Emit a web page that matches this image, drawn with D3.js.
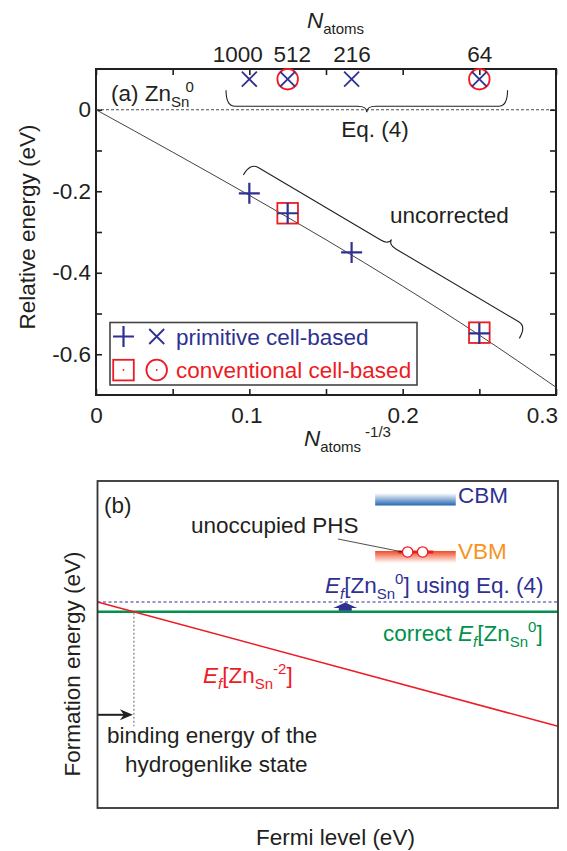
<!DOCTYPE html>
<html>
<head>
<meta charset="utf-8">
<script src="https://cdn.jsdelivr.net/npm/d3@7"></script>
<style>
  body{margin:0;background:#fff}
  svg{display:block;font-family:"Liberation Sans",Arial,sans-serif}
</style>
</head>
<body>
<svg width="567" height="851"></svg>
<script>
// ---- panel (a) data ----
var nAtoms=["1000","512","216","64"]
var nAtomsX=[0.1,0.125,0.1667,0.25]            // N^-1/3
var primX=[0.1,0.125,0.1667,0.25]
var primUncorr=[-0.205,-0.254,-0.350,-0.549]
var primEq4=[0.075,0.075,0.075,0.075]
var convX=[0.125,0.25]
var convUncorr=[-0.254,-0.547]
var convEq4=[0.075,0.075]
var fitX=[0,0.05,0.1,0.15,0.2,0.25,0.3]
var fitY=[0,-0.104,-0.21,-0.319,-0.433,-0.553,-0.681]
var xTicks=[0,0.05,0.1,0.15,0.2,0.25,0.3]
var xTickLabels=["0","","0.1","","0.2","","0.3"]
var yTicks=[0,-0.1,-0.2,-0.3,-0.4,-0.5,-0.6]
var yTickLabels=["0","","-0.2","","-0.4","","-0.6"]
var eq4Brace=[[0.0848,0.048],[0.2684,0.048]]
var uncorrBrace=[[0.0961,-0.160],[0.2761,-0.561]]

// ---- panel (b) schematic data (arbitrary units) ----
var correctLevel=6.0
var eq4Level=6.3
var charged=[[0,6.3],[1,2.5]]
var crossX=0.079
var bindingY=2.85
var cbm={x0:0.603,x1:0.778,y0:9.25,y1:9.63}
var vbm={x0:0.603,x1:0.778,y0:7.49,y1:7.86}
var phsX=[0.6735,0.706]
var phsSeg=[0.653,0.729]
var shiftArrowX=0.538

var ink="#231F20", blue="#2E3192", red="#ED1C24", green="#00924A", orange="#F7941D"

var svg=d3.select("svg")
svg.append("rect").attr("width",567).attr("height",851).attr("fill","#fff")

var defs=svg.append("defs")
var gc=defs.append("linearGradient").attr("id","gcbm").attr("x1",0).attr("y1",0).attr("x2",0).attr("y2",1)
gc.append("stop").attr("offset","0%").attr("stop-color","#fff")
gc.append("stop").attr("offset","100%").attr("stop-color","#2567B2")
var gv=defs.append("linearGradient").attr("id","gvbm").attr("x1",0).attr("y1",0).attr("x2",0).attr("y2",1)
gv.append("stop").attr("offset","0%").attr("stop-color","#EF4B24")
gv.append("stop").attr("offset","100%").attr("stop-color","#fff")

// rich text: italic / sub / sup pieces
function richText(sel,x,y,parts,color,anchor)
{
  var t=sel.append("text").attr("x",x).attr("y",y).attr("fill",color)
           .attr("font-size",22.5).attr("text-anchor",anchor||"start")
  var shift=0
  parts.forEach(function(p)
  {
    var target=p.sub?6:(p.sup?-9:0)
    var s=t.append("tspan").text(p.t).attr("dy",target-shift)
    shift=target
    if(p.sub||p.sup) s.attr("font-size",15)
    if(p.i) s.attr("font-style","italic")
    if(p.dx) s.attr("dx",p.dx)
  })
  return t
}

// curly brace between two end points, side picks where the hooks point
function bracePath(a,b,side,h,t,r)
{
  var dx=b[0]-a[0], dy=b[1]-a[1], L=Math.hypot(dx,dy)
  var ux=dx/L, uy=dy/L
  var nx=-uy*side, ny=ux*side
  var a0=[a[0]-h*nx,a[1]-h*ny], b0=[b[0]-h*nx,b[1]-h*ny]
  var m=[(a0[0]+b0[0])/2,(a0[1]+b0[1])/2]
  var tip=[m[0]-t*nx,m[1]-t*ny]
  var p=d3.path()
  p.moveTo(a[0],a[1])
  p.quadraticCurveTo(a0[0],a0[1],a0[0]+r*ux,a0[1]+r*uy)
  p.lineTo(m[0]-r*ux,m[1]-r*uy)
  p.quadraticCurveTo(m[0],m[1],tip[0],tip[1])
  p.quadraticCurveTo(m[0],m[1],m[0]+r*ux,m[1]+r*uy)
  p.lineTo(b0[0]-r*ux,b0[1]-r*uy)
  p.quadraticCurveTo(b0[0],b0[1],b[0],b[1])
  return p.toString()
}

//================ panel (a) =================
var xa=d3.scaleLinear().domain([0,0.3]).range([96,556])
var ya=d3.scaleLinear().domain([-0.7,0.1]).range([395,69])
var ga=svg.append("g")

// zero line
ga.append("line").attr("x1",xa(0)).attr("x2",xa(0.3)).attr("y1",ya(0)).attr("y2",ya(0))
  .attr("stroke",ink).attr("stroke-width",0.8).attr("stroke-dasharray","3,2")

// axes
function styleAxis(g)
{
  g.select(".domain").remove()
  g.selectAll(".tick line").attr("stroke",ink).attr("stroke-width",1.6)
  g.selectAll(".tick text").attr("fill",ink).attr("font-size",22.5)
   .attr("font-family","'Liberation Sans',Arial,sans-serif")
}
ga.append("g").attr("transform","translate(0,"+ya(-0.7)+")")
  .call(d3.axisBottom(xa).tickValues(xTicks).tickSize(-6).tickPadding(12)
        .tickFormat(function(d,i){return xTickLabels[i]}))
  .call(styleAxis)
  .selectAll(".tick text").attr("dx",function(d,i){return i==6?-14:(i==2?-3:0)})
ga.append("g").attr("transform","translate(0,"+ya(0.1)+")")
  .call(d3.axisTop(xa).tickValues(xTicks).tickSize(-6).tickFormat(""))
  .call(styleAxis)
ga.append("g").attr("transform","translate(0,"+ya(0.1)+")")
  .call(d3.axisTop(xa).tickValues(nAtomsX).tickSize(0).tickPadding(7)
        .tickFormat(function(d,i){return nAtoms[i]}))
  .call(styleAxis)
  .selectAll(".tick text").attr("dx",function(d,i){return i==0?-12:(i==1?4:0)})
ga.append("g").attr("transform","translate("+xa(0)+",0)")
  .call(d3.axisLeft(ya).tickValues(yTicks).tickSize(-6).tickPadding(5)
        .tickFormat(function(d,i){return yTickLabels[i]}))
  .call(styleAxis)
ga.append("g").attr("transform","translate("+xa(0.3)+",0)")
  .call(d3.axisRight(ya).tickValues(yTicks).tickSize(-6).tickFormat(""))
  .call(styleAxis)

ga.append("rect").attr("x",xa(0)).attr("y",ya(0.1))
  .attr("width",xa(0.3)-xa(0)).attr("height",ya(-0.7)-ya(0.1))
  .attr("fill","none").attr("stroke",ink).attr("stroke-width",2)

// fit line
var fitLine=d3.line().x(function(d){return xa(d[0])}).y(function(d){return ya(d[1])}).curve(d3.curveMonotoneX)
ga.append("path").datum(fitX.map(function(x,i){return [x,fitY[i]]}))
  .attr("d",fitLine).attr("fill","none").attr("stroke","#444").attr("stroke-width",1)

var plusPath="M-10.5,0H10.5M0,-10.5V10.5"
var crossPath="M-7.5,-7.5L7.5,7.5M-7.5,7.5L7.5,-7.5"

// conventional cell (red)
ga.selectAll(".sq").data(convX).enter().append("rect")
  .attr("x",function(d){return xa(d)-10.3})
  .attr("y",function(d,i){return ya(convUncorr[i])-10.3})
  .attr("width",20.6).attr("height",20.6)
  .attr("fill","none").attr("stroke",red).attr("stroke-width",1.8)
ga.selectAll(".ci").data(convX).enter().append("circle")
  .attr("cx",function(d){return xa(d)})
  .attr("cy",function(d,i){return ya(convEq4[i])})
  .attr("r",10.3).attr("fill","none").attr("stroke",red).attr("stroke-width",1.8)

// primitive cell (blue)
ga.selectAll(".pl").data(primX).enter().append("path")
  .attr("transform",function(d,i){return "translate("+xa(d)+","+ya(primUncorr[i])+")"})
  .attr("d",plusPath).attr("stroke",blue).attr("stroke-width",2.2).attr("fill","none")
ga.selectAll(".cr").data(primX).enter().append("path")
  .attr("transform",function(d,i){return "translate("+xa(d)+","+ya(primEq4[i])+")"})
  .attr("d",crossPath).attr("stroke",blue).attr("stroke-width",1.8).attr("fill","none")

// braces
ga.append("path")
  .attr("d",bracePath([xa(eq4Brace[0][0]),ya(eq4Brace[0][1])],[xa(eq4Brace[1][0]),ya(eq4Brace[1][1])],-1,16,6,9))
  .attr("fill","none").attr("stroke",ink).attr("stroke-width",1.1)
ga.append("path")
  .attr("d",bracePath([xa(uncorrBrace[0][0]),ya(uncorrBrace[0][1])],[xa(uncorrBrace[1][0]),ya(uncorrBrace[1][1])],1,14,6,9))
  .attr("fill","none").attr("stroke",ink).attr("stroke-width",1.1)

ga.append("text").attr("x",375).attr("y",137).attr("text-anchor","middle")
  .attr("font-size",22.5).attr("fill",ink).text("Eq. (4)")
ga.append("text").attr("x",390).attr("y",223).attr("font-size",22.5).attr("fill",ink).text("uncorrected")
richText(ga,111,101,[{t:"(a) Zn"},{t:"Sn",sub:true},{t:"0",sup:true,dx:-4}],ink)

// axis titles
richText(ga,307,28,[{t:"N",i:true},{t:"atoms",sub:true}],ink)
richText(ga,304,446,[{t:"N",i:true},{t:"atoms",sub:true},{t:"-1/3",sup:true,dx:4}],ink)
ga.append("text").attr("transform","translate(35,227)rotate(-90)").attr("text-anchor","middle")
  .attr("font-size",22.5).attr("fill",ink).text("Relative energy (eV)")

// legend
var lg=ga.append("g")
lg.append("rect").attr("x",110).attr("y",322.5).attr("width",307).attr("height",62.5)
  .attr("fill","#fff").attr("stroke","#444").attr("stroke-width",1.6)
lg.append("path").attr("transform","translate(123.5,336.5)").attr("d",plusPath)
  .attr("stroke",blue).attr("stroke-width",2.2)
lg.append("path").attr("transform","translate(156.7,336.5)").attr("d",crossPath)
  .attr("stroke",blue).attr("stroke-width",1.8)
lg.append("text").attr("x",176).attr("y",344.5).attr("font-size",22.5).attr("fill",blue).text("primitive cell-based")
lg.append("rect").attr("x",113.2).attr("y",359.8).attr("width",20.6).attr("height",20.6)
  .attr("fill","none").attr("stroke",red).attr("stroke-width",1.8)
lg.append("circle").attr("cx",156.7).attr("cy",370).attr("r",10.3)
  .attr("fill","none").attr("stroke",red).attr("stroke-width",1.8)
lg.selectAll(".dot").data([123.5,156.7]).enter().append("circle")
  .attr("cx",function(d){return d}).attr("cy",370).attr("r",0.9).attr("fill",red)
lg.append("text").attr("x",176).attr("y",378).attr("font-size",22.5).attr("fill",red).text("conventional cell-based")

//================ panel (b) =================
var xb=d3.scaleLinear().domain([0,1]).range([97.5,558])
var yb=d3.scaleLinear().domain([0,10]).range([808,481])
var gb=svg.append("g")

// band edges
gb.append("rect").attr("x",xb(cbm.x0)).attr("y",yb(cbm.y1))
  .attr("width",xb(cbm.x1)-xb(cbm.x0)).attr("height",yb(cbm.y0)-yb(cbm.y1)).attr("fill","url(#gcbm)")
gb.append("rect").attr("x",xb(vbm.x0)).attr("y",yb(vbm.y1))
  .attr("width",xb(vbm.x1)-xb(vbm.x0)).attr("height",yb(vbm.y0)-yb(vbm.y1)).attr("fill","url(#gvbm)")
gb.append("line").attr("x1",xb(phsSeg[0])).attr("x2",xb(phsSeg[1]))
  .attr("y1",yb(vbm.y1)+1).attr("y2",yb(vbm.y1)+1).attr("stroke",red).attr("stroke-width",3)
gb.append("line").attr("x1",338).attr("y1",539).attr("x2",xb(phsX[0])-5).attr("y2",yb(vbm.y1)+1)
  .attr("stroke",ink).attr("stroke-width",0.8)
gb.selectAll(".phs").data(phsX).enter().append("circle")
  .attr("cx",function(d){return xb(d)}).attr("cy",yb(vbm.y1)+1).attr("r",5.2)
  .attr("fill","#fff").attr("stroke",red).attr("stroke-width",1.3)

// levels
gb.append("line").attr("x1",xb(0)).attr("x2",xb(1)).attr("y1",yb(eq4Level)).attr("y2",yb(eq4Level))
  .attr("stroke",blue).attr("stroke-width",1.2).attr("stroke-dasharray","3,2.5")
gb.append("line").attr("x1",xb(0)).attr("x2",xb(1)).attr("y1",yb(correctLevel)).attr("y2",yb(correctLevel))
  .attr("stroke",green).attr("stroke-width",2.6)
gb.append("path").datum(charged)
  .attr("d",d3.line().x(function(d){return xb(d[0])}).y(function(d){return yb(d[1])}))
  .attr("stroke",red).attr("stroke-width",1.6).attr("fill","none")

// shift arrow
var ax0=xb(shiftArrowX), ayB=yb(correctLevel)-1, ayT=yb(eq4Level)+0.5
gb.append("path")
  .attr("d","M"+(ax0-6.5)+","+ayB+"V"+(ayT+5.5)+"H"+(ax0-12)+"L"+ax0+","+ayT+"L"+(ax0+12)+","+(ayT+5.5)
        +"H"+(ax0+6.5)+"V"+ayB+"Z")
  .attr("fill",blue)

// binding energy
gb.append("line").attr("x1",xb(crossX)).attr("x2",xb(crossX))
  .attr("y1",yb(correctLevel)+1).attr("y2",yb(charged[1][1]))
  .attr("stroke","#888").attr("stroke-width",1.3).attr("stroke-dasharray","2,2")
gb.append("line").attr("x1",xb(0)).attr("x2",xb(crossX)-6).attr("y1",yb(bindingY)).attr("y2",yb(bindingY))
  .attr("stroke",ink).attr("stroke-width",2)
var tx=xb(crossX)-1, ty=yb(bindingY)
gb.append("path").attr("d","M"+tx+","+ty+"L"+(tx-13)+","+(ty-5.5)+"L"+(tx-9)+","+ty+"L"+(tx-13)+","+(ty+5.5)+"Z")
  .attr("fill",ink)

gb.append("rect").attr("x",xb(0)).attr("y",yb(10))
  .attr("width",xb(1)-xb(0)).attr("height",yb(0)-yb(10))
  .attr("fill","none").attr("stroke","#333").attr("stroke-width",1.8)

// texts
gb.append("text").attr("x",104).attr("y",513).attr("font-size",22.5).attr("fill",ink).text("(b)")
gb.append("text").attr("x",458).attr("y",503).attr("font-size",22.5).attr("fill",blue).text("CBM")
gb.append("text").attr("x",458).attr("y",559).attr("font-size",22.5).attr("fill",orange).text("VBM")
gb.append("text").attr("x",191).attr("y",533).attr("font-size",22.5).attr("fill",ink).text("unoccupied PHS")
richText(gb,325,593,[{t:"E",i:true},{t:"f",i:true,sub:true},{t:"[Zn"},{t:"Sn",sub:true},{t:"0",sup:true},{t:"] using Eq. (4)"}],blue)
richText(gb,383,641,[{t:"correct "},{t:"E",i:true},{t:"f",i:true,sub:true},{t:"[Zn"},{t:"Sn",sub:true},{t:"0",sup:true},{t:"]"}],green)
richText(gb,203,683,[{t:"E",i:true},{t:"f",i:true,sub:true},{t:"[Zn"},{t:"Sn",sub:true},{t:"-2",sup:true},{t:"]"}],red)
gb.append("text").attr("x",107).attr("y",743).attr("font-size",22.5).attr("fill",ink).text("binding energy of the")
gb.append("text").attr("x",125).attr("y",772).attr("font-size",22.5).attr("fill",ink).text("hydrogenlike state")
gb.append("text").attr("x",335.5).attr("y",845).attr("text-anchor","middle")
  .attr("font-size",22.5).attr("fill",ink).text("Fermi level (eV)")
gb.append("text").attr("transform","translate(80,664)rotate(-90)").attr("text-anchor","middle")
  .attr("font-size",22.5).attr("fill",ink).text("Formation energy (eV)")
</script>
</body>
</html>
